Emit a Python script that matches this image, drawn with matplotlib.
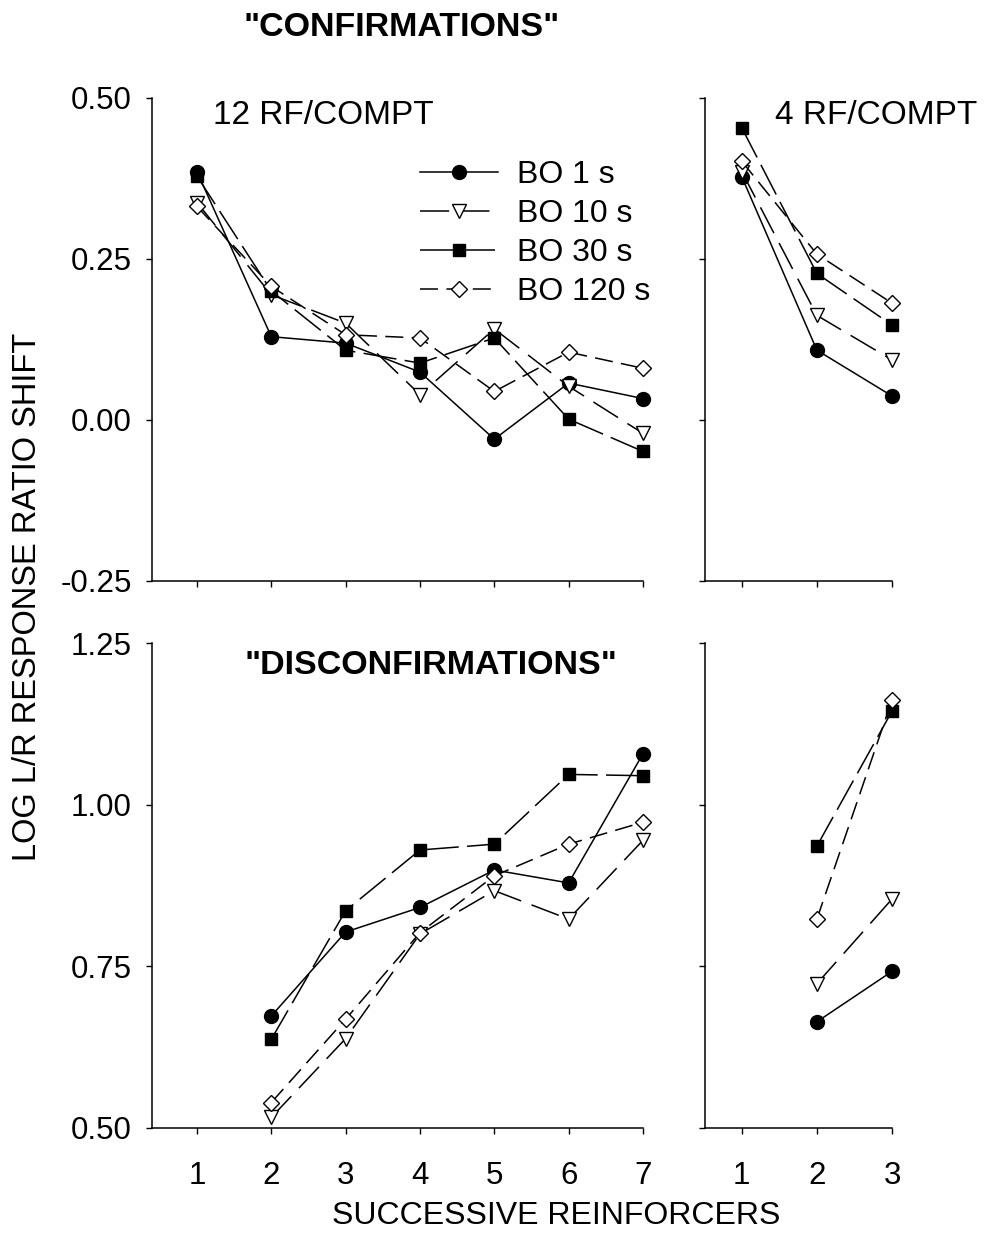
import matplotlib
matplotlib.use("Agg")
import matplotlib.pyplot as plt

plt.rcParams['font.family'] = ['Liberation Sans', 'DejaVu Sans']
plt.rcParams['lines.scale_dashes'] = False

# data
labels = ['BO 1 s', 'BO 10 s', 'BO 30 s', 'BO 120 s']
x12 = [1, 2, 3, 4, 5, 6, 7]
x4 = [1, 2, 3]
x4_dis = [2, 3]
x12_dis = [2, 3, 4, 5, 6, 7]

conf12 = {
    'BO 1 s':   [0.385, 0.129, 0.119, 0.074, -0.030, 0.057, 0.033],
    'BO 10 s':  [0.337, 0.194, 0.150, 0.039, 0.141, 0.052, -0.021],
    'BO 30 s':  [0.378, 0.200, 0.108, 0.088, 0.127, 0.001, -0.049],
    'BO 120 s': [0.331, 0.207, 0.132, 0.127, 0.044, 0.105, 0.080],
}
conf4 = {
    'BO 1 s':   [0.377, 0.108, 0.037],
    'BO 10 s':  [0.385, 0.162, 0.093],
    'BO 30 s':  [0.453, 0.227, 0.147],
    'BO 120 s': [0.401, 0.257, 0.181],
}
dis12 = {
    'BO 1 s':   [0.673, 0.803, 0.841, 0.899, 0.879, 1.079],
    'BO 10 s':  [0.516, 0.638, 0.800, 0.867, 0.823, 0.945],
    'BO 30 s':  [0.637, 0.836, 0.930, 0.939, 1.047, 1.045],
    'BO 120 s': [0.539, 0.668, 0.802, 0.890, 0.939, 0.973],
}
dis4 = {
    'BO 1 s':   [0.664, 0.742],
    'BO 10 s':  [0.723, 0.854],
    'BO 30 s':  [0.936, 1.145],
    'BO 120 s': [0.823, 1.162],
}

styles = {
    'BO 1 s':   dict(marker='o', mfc='black', ms=10, dashes=()),
    'BO 10 s':  dict(marker='v', mfc='white', ms=10.5, dashes=(21, 8)),
    'BO 30 s':  dict(marker='s', mfc='black', ms=9, dashes=(24, 6)),
    'BO 120 s': dict(marker='D', mfc='white', ms=8.5, dashes=(13, 6)),
}

fig = plt.figure(figsize=(9.84, 12.37), dpi=100)
W, H = 984.0, 1237.0


def make_ax(x0, x1, ytop, ybot):
    return fig.add_axes([x0 / W, 1 - ybot / H, (x1 - x0) / W, (ybot - ytop) / H])


ax_tl = make_ax(152, 643, 97.5, 581)
ax_tr = make_ax(705, 892, 97.5, 581)
ax_bl = make_ax(152, 643, 643.3, 1127.7)
ax_br = make_ax(705, 892, 643.3, 1127.7)


def draw(ax, xs, data):
    for lab in labels:
        st = styles[lab]
        ln, = ax.plot(xs, data[lab], color='black', lw=1.1, marker=st['marker'],
                      ms=st['ms'], mfc=st['mfc'], mec='black', mew=1.0,
                      label=lab, clip_on=False)
        if st['dashes']:
            ln.set_dashes(st['dashes'])


draw(ax_tl, x12, conf12)
draw(ax_tr, x4, conf4)
draw(ax_bl, x12_dis, dis12)
draw(ax_br, x4_dis, dis4)

for ax in (ax_tl, ax_tr, ax_bl, ax_br):
    for s in ('top', 'right'):
        ax.spines[s].set_visible(False)
    for s in ('left', 'bottom'):
        ax.spines[s].set_linewidth(1.1)
    ax.tick_params(direction='out', length=4.5, width=1.0, labelsize=22.5, pad=10)

ax_tl.set_xlim(0.395, 7)
ax_bl.set_xlim(0.395, 7)
ax_tr.set_xlim(0.51, 3)
ax_br.set_xlim(0.51, 3)
for ax in (ax_tl, ax_tr):
    ax.set_ylim(-0.25, 0.50)
    ax.set_yticks([-0.25, 0.0, 0.25, 0.50])
    ax.tick_params(axis='x', labelbottom=False)
for ax in (ax_bl, ax_br):
    ax.set_ylim(0.50, 1.25)
    ax.set_yticks([0.50, 0.75, 1.00, 1.25])
    ax.tick_params(axis='x', pad=19.5)
ax_tl.set_xticks(x12)
ax_bl.set_xticks(x12)
ax_tr.set_xticks(x4)
ax_br.set_xticks(x4)
ax_tl.set_yticklabels(['-0.25', '0.00', '0.25', '0.50'])
ax_bl.set_yticklabels(['0.50', '0.75', '1.00', '1.25'])
ax_tr.tick_params(axis='y', labelleft=False)
ax_br.tick_params(axis='y', labelleft=False)

leg = ax_tl.legend(loc='upper left', bbox_to_anchor=(420 / W, 1 - 160 / H),
                   bbox_transform=fig.transFigure, frameon=False, fontsize=23,
                   handlelength=2.45, handletextpad=0.6, labelspacing=0.28,
                   borderpad=0, borderaxespad=0)

fig.text(402 / W, 1 - 27 / H, '"CONFIRMATIONS"', ha='center', va='center',
         fontsize=24.5, fontweight='bold')
fig.text(431 / W, 1 - 665 / H, '"DISCONFIRMATIONS"', ha='center', va='center',
         fontsize=24.5, fontweight='bold')
fig.text(213 / W, 1 - 116 / H, '12 RF/COMPT', ha='left', va='center', fontsize=24)
fig.text(775 / W, 1 - 116 / H, '4 RF/COMPT', ha='left', va='center', fontsize=24)
fig.text(27.5 / W, 1 - 597 / H, 'LOG L/R RESPONSE RATIO SHIFT', rotation=90,
         ha='center', va='center', fontsize=23.5)
fig.text(556 / W, 1 - 1216 / H, 'SUCCESSIVE REINFORCERS', ha='center', va='center',
         fontsize=23)

fig.savefig('out.png', dpi=100)
